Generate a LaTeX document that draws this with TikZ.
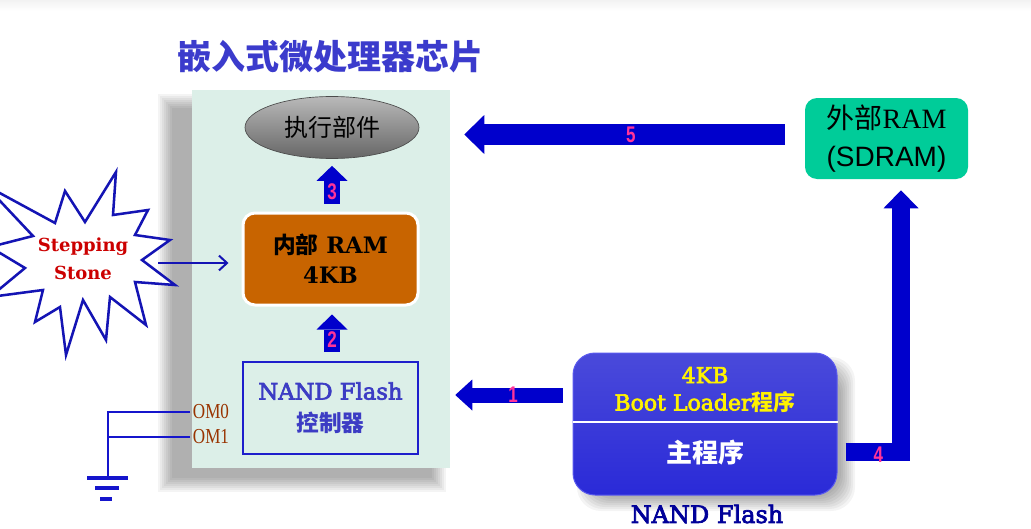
\documentclass[tikz,border=0pt]{standalone}
\usepackage{fontspec}
\setmainfont{DejaVu Serif}
\newfontfamily\cjk{Noto Sans CJK SC}
\newfontfamily\lsans{Liberation Sans}
\newfontfamily\lserif{Liberation Serif}
\newfontfamily\sbserif[FakeBold=3]{DejaVu Serif}
\usetikzlibrary{arrows.meta,calc,shapes.geometric}
\definecolor{ablue}{HTML}{0000CC}
\definecolor{titleblue}{HTML}{3B3BCC}
\definecolor{chipfill}{HTML}{DCEFE8}
\definecolor{ramfill}{HTML}{C86400}
\definecolor{ctrlblue}{HTML}{1E1ECC}
\definecolor{ctrltext}{HTML}{3C3CC4}
\definecolor{nandtop}{HTML}{4A4ADA}
\definecolor{nandmid}{HTML}{3030CE}
\definecolor{nandbot}{HTML}{2A2AD8}
\definecolor{nandedge}{HTML}{5A5AEE}
\definecolor{sdfill}{HTML}{00CC99}
\definecolor{labpink}{HTML}{FF3399}
\definecolor{omtext}{HTML}{993300}
\definecolor{stepred}{HTML}{CC0000}
\definecolor{starline}{HTML}{1414B4}
\definecolor{nandlbl}{HTML}{000099}
\definecolor{gndblue}{HTML}{1515CC}
\begin{document}
\begin{tikzpicture}[x=0.75pt,y=-0.75pt,
  lab/.style={text=labpink,font=\lsans\bfseries\fontsize{17}{17}\selectfont,inner sep=0pt},
  arrowA/.style={ablue,line width=11.25pt,-{Triangle[width=23.25pt 0 0,length=12.75pt 0 0,line width=0pt]}},
  arrowB/.style={ablue,line width=12pt,-{Triangle[width=23.25pt 0 0,length=11.25pt 0 0,line width=0pt]}},
  arrowC/.style={ablue,line width=13.5pt,line join=miter,-{Triangle[width=26.25pt 0 0,length=13.5pt 0 0,line width=0pt]}},
  arrowD/.style={ablue,line width=15.75pt,-{Triangle[width=29.25pt 0 0,length=15pt 0 0,line width=0pt]}},
  gline/.style={gndblue,line width=1.6pt},
  gbar/.style={gndblue,line width=2.6pt},
  omlbl/.style={text=omtext,font=\lserif\fontsize{16}{16}\selectfont,inner sep=2pt,anchor=west},
]
\useasboundingbox (0,0) rectangle (1031,528);
\fill[white] (0,0) rectangle (1031,528);
\shade[top color=gray!10,bottom color=white] (0,0) rectangle (1031,11);

% title
\node[text=titleblue,font=\cjk\bfseries\fontsize{25.5}{25.5}\selectfont] (title) at (330,57) {嵌入式微处理器芯片};

% chip shadow and box
\foreach \e in {0,2,...,14} \fill[black,opacity=0.045] (158+\e,94+\e) rectangle (446-\e,492-\e);
\node[fill=chipfill,minimum width=193.5pt,minimum height=283.5pt,inner sep=0pt] (chip) at (321,279) {};

% execution unit
\node[ellipse,minimum width=130.5pt,minimum height=46.5pt,shade,top color=gray!55,middle color=gray!85,bottom color=black!60,draw=gray!60!black,line width=0.5pt,font=\cjk\fontsize{18}{18}\selectfont] (exec) at (332,127.5) {执行部件};

% internal RAM
\node[rounded corners=9pt,fill=ramfill,draw=white,line width=2.25pt,minimum width=131.25pt,minimum height=69pt,align=center,font=\fontsize{17}{22.5}\selectfont\bfseries] (ram) at (330.5,259) {{\cjk 内部} RAM\\4KB};

% NAND flash controller
\node[draw=ctrlblue,line width=1.5pt,minimum width=131.25pt,minimum height=69pt,align=center,text=ctrltext,font=\sbserif\fontsize{17}{24}\selectfont] (ctrl) at (330.5,408) {NAND Flash\\{\cjk\bfseries 控制器}};

% stepping stone star
\draw[starline,line width=1.9pt,fill=white,line join=miter]
  (-15,185) -- (55,223) -- (65,191) -- (85,222) -- (116,172) -- (113,215) -- (148,210) -- (135,235)
  -- (170,240) -- (142,260) -- (175,285) -- (135,282) -- (146,325) -- (110,297) -- (106,340)
  -- (83,300) -- (66,355) -- (60,307) -- (35,322) -- (43,290) -- (-10,297) -- (25,268)
  -- (-10,247) -- (33,236) -- cycle;
\node[text=stepred,align=center,font=\bfseries\fontsize{13.5}{21}\selectfont] (stone) at (83,259) {Stepping\\Stone};
\coordinate (sr) at (158,263);
\draw[starline,line width=1.5pt,-{Straight Barb[length=6pt,width=11pt]},shorten >=9.75pt] (sr) -- (sr -| ram.west);

% OM0 / OM1 and ground
\node[omlbl] (om0) at (190,412) {\scalebox{0.8}[1]{OM0}};
\node[omlbl] (om1) at (190,437) {\scalebox{0.8}[1]{OM1}};
\coordinate (g) at (108,478);
\draw[gline] (om0.west) -- (om0.west -| g) -- (g);
\draw[gline] (om1.west) -- (om1.west -| g);
\draw[gbar] ($(g)+(-21,0)$) -- ($(g)+(20,0)$);
\draw[gbar] ($(g)+(-13,10)$) -- ($(g)+(11,10)$);
\draw[gbar] ($(g)+(-8,21)$) -- ($(g)+(4,21)$);

% NAND flash chip
\foreach \e in {0,2,...,14} \fill[black,opacity=0.045,rounded corners=18pt] (577+\e,357+\e) rectangle (855-\e,511-\e);
\node[rounded corners=16.5pt,shade,top color=nandtop,middle color=nandmid,bottom color=nandbot,draw=nandedge,line width=0.75pt,minimum width=198pt,minimum height=106.5pt] (nand) at (705,424) {};
\draw[white,line width=1.5pt] ($(nand.west)+(0,-2)$) -- ($(nand.east)+(0,-2)$);
\node[text=yellow,font=\sbserif\fontsize{16.5}{16.5}\selectfont] (kb) at (705,375) {4KB};
\node[text=yellow,font=\sbserif\fontsize{16.5}{16.5}\selectfont] (bl) at (705,402) {Boot Loader{\cjk\bfseries 程序}};
\node[text=white,font=\cjk\bfseries\fontsize{19.5}{19.5}\selectfont] (mainprog) at (705,453) {主程序};
\node[text=nandlbl,font=\sbserif\fontsize{18}{18}\selectfont] (nandname) at (707,514) {NAND Flash};

% external RAM
\node[rounded corners=9pt,fill=sdfill,minimum width=122.25pt,minimum height=60.75pt,align=center,font=\fontsize{21}{28.5}\selectfont] (sdram) at (886.5,138.5) {{\cjk 外部}{\lserif RAM}\\{\lsans (SDRAM)}};

% block arrows
\coordinate (a1s) at ($(nand.west)+(-10,-29)$);
\draw[arrowA] (a1s) -- node[lab,pos=0.46] {\scalebox{0.75}[1]{1}} ($(a1s -| chip.east)+(5,0)$);
\draw[arrowB] ($(ctrl.north)+(1.5,-9)$) -- node[lab,pos=0.33] {\scalebox{0.75}[1]{2}} ($(ram.south)+(1.5,8)$);
\draw[arrowB] ($(ram.north)+(1.5,-8)$) -- node[lab,pos=0.3] {\scalebox{0.75}[1]{3}} ($(exec.south)+(0,7)$);
\coordinate (a4s) at ($(nand.east)+(8,27.5)$);
\coordinate (a4e) at ($(sdram.south)+(14.5,11)$);
\draw[arrowC] (a4s) -- node[lab,pos=0.59,yshift=-2.5pt] {\scalebox{0.75}[1]{4}} (a4s -| a4e) -- (a4e);
\coordinate (a5s) at ($(sdram.west)+(-20,-4)$);
\draw[arrowD] (a5s) -- node[lab,pos=0.48] {\scalebox{0.75}[1]{5}} ($(a5s -| chip.east)+(14,0)$);
\end{tikzpicture}
\end{document}
